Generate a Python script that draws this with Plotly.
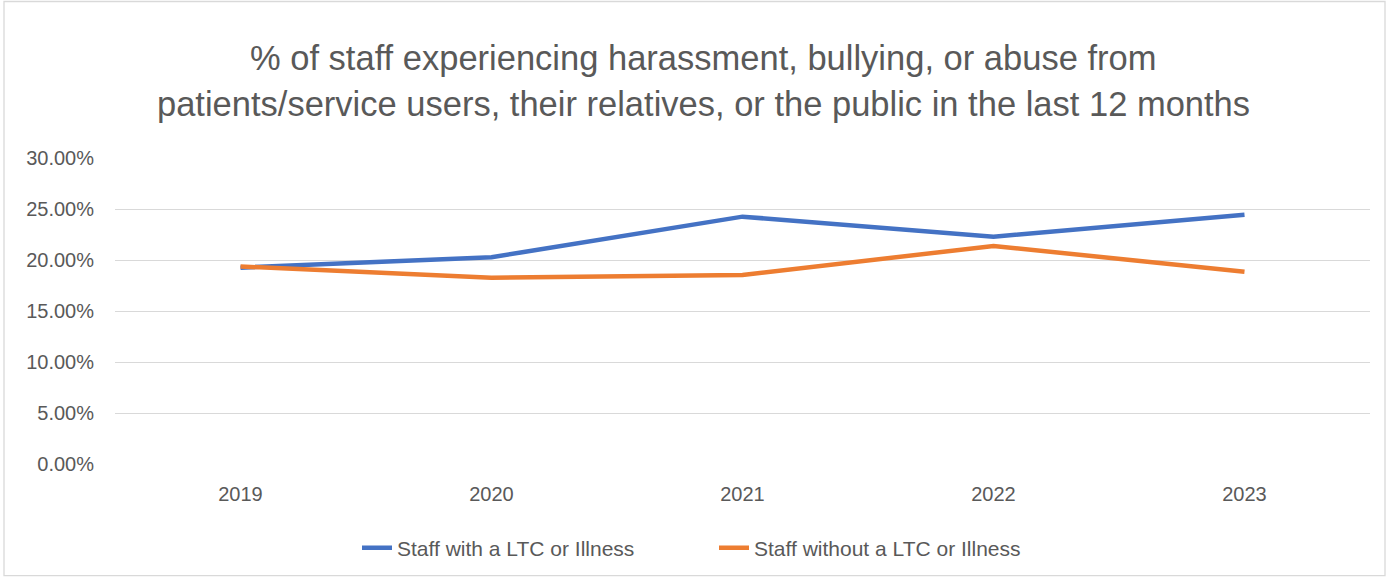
import plotly.graph_objects as go

years = ["2019", "2020", "2021", "2022", "2023"]
with_ltc = [0.1925, 0.2027, 0.2425, 0.2228, 0.2443]
without_ltc = [0.1937, 0.1826, 0.1852, 0.2138, 0.1885]
series_names = ["Staff with a LTC or Illness", "Staff without a LTC or Illness"]
title_lines = [
    "% of staff experiencing harassment, bullying, or abuse from",
    "patients/service users, their relatives, or the public in the last 12 months",
]

W, H = 1387, 579
L, R, T, B = 115, 17, 158, 114
ph = H - T - B
pw = W - L - R

def py(pix):
    return 1 - (pix - T) / ph

def px(pix):
    return (pix - L) / pw

font_family = "Liberation Sans, Arial, sans-serif"
grey = "#595959"

fig = go.Figure()
fig.add_trace(go.Scatter(x=years, y=with_ltc, name=series_names[0], mode="lines",
                         line=dict(color="#4472C4", width=4.5)))
fig.add_trace(go.Scatter(x=years, y=without_ltc, name=series_names[1], mode="lines",
                         line=dict(color="#ED7D31", width=4.5)))

annotations = []
for line, ypix in zip(title_lines, [58, 104]):
    annotations.append(dict(text=line, x=px(703), y=py(ypix), xref="paper", yref="paper",
                            xanchor="center", yanchor="middle", showarrow=False,
                            font=dict(family=font_family, size=34.5, color=grey)))

fig.update_layout(
    width=W, height=H,
    margin=dict(l=L, r=R, t=T, b=B),
    paper_bgcolor="white", plot_bgcolor="white",
    showlegend=True,
    legend=dict(orientation="h", x=px(357), xanchor="left", y=py(548), yanchor="middle",
                font=dict(family=font_family, size=21, color=grey),
                entrywidth=312, entrywidthmode="pixels",
                traceorder="normal"),
    annotations=annotations,
    hovermode=False,
    xaxis=dict(type="category", range=[-0.5, 4.5], showgrid=False, zeroline=False,
               showline=False, ticks="", ticklabelstandoff=16,
               tickfont=dict(family=font_family, size=20, color=grey)),
    yaxis=dict(range=[0, 0.3], dtick=0.05, tickformat=".2%", showgrid=True,
               gridcolor="#D9D9D9", gridwidth=1.3, zeroline=False, showline=False,
               ticks="", ticklabelstandoff=20,
               tickfont=dict(family=font_family, size=20, color=grey)),
    shapes=[dict(type="rect", xref="paper", yref="paper", x0=px(4), x1=px(1385),
                 y0=py(577), y1=py(1), line=dict(color="#D9D9D9", width=1.3),
                 fillcolor="rgba(0,0,0,0)", layer="below")],
)

fig.write_html("out.html")
